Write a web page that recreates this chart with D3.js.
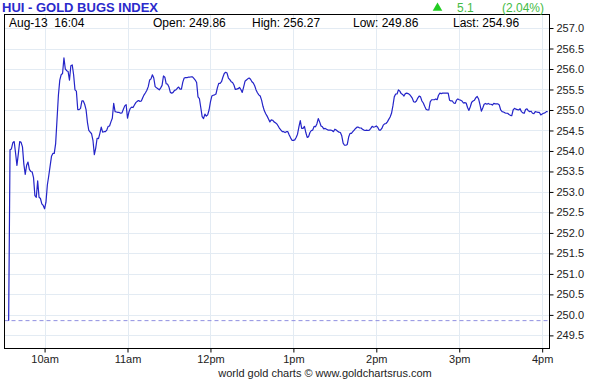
<!DOCTYPE html>
<html>
<head>
<meta charset="utf-8">
<script src="https://cdn.jsdelivr.net/npm/d3@7"></script>
<style>
  body { margin: 0; background: #fff; }
  svg { display: block; font-family: "Liberation Sans", Arial, sans-serif; }
  .grid line { stroke: #e3ebf3; stroke-width: 1; }
  .axis path { display: none; }
  .axis line { stroke: #000; }
  .axis text { fill: #222; font-size: 11px; }
</style>
</head>
<body>
<svg id="chart" width="598" height="379"></svg>
<script>
// one-minute closes, first bar at 9:34
const startMinute = 9 * 60 + 34;
const prices = [
  249.86, 254.03, 254.05, 254.2, 254.23, 253.95, 253.65, 253.93, 254.23, 254.21,
  254.1, 253.68, 253.43, 253.65, 253.73, 253.55, 253.5, 253.49, 253.35, 252.91,
  252.87, 253.27, 252.87, 252.84, 252.71, 252.67, 252.59, 252.75, 253.17, 253.39,
  253.63, 253.87, 253.94, 253.94, 254.18, 254.77, 255.36, 255.73, 255.86, 255.89,
  256.27, 256.0, 255.96, 255.94, 255.73, 256.08, 256.1, 255.86, 255.49, 255.46,
  255.01, 255.01, 255.04, 255.22, 255.22, 255.14, 255.01, 254.7, 254.5, 254.46,
  254.42, 254.26, 253.91, 254.07, 254.31, 254.3, 254.43, 254.58, 254.46, 254.47,
  254.47, 254.51, 254.6, 254.61, 254.71, 254.8, 255.16, 254.96, 254.95, 254.94,
  254.94, 254.92, 254.93, 255.02, 255.1, 255.13, 254.8, 254.95, 255.04, 255.07,
  255.06, 255.12, 255.18, 255.21, 255.23, 255.21, 255.22, 255.3, 255.37, 255.42,
  255.48, 255.57, 255.73, 255.76, 255.86, 255.78, 255.57, 255.54, 255.52, 255.49,
  255.54, 255.6, 255.83, 255.8, 255.64, 255.63, 255.56, 255.43, 255.41, 255.43,
  255.48, 255.49, 255.53, 255.56, 255.51, 255.51, 255.68, 255.78, 255.79, 255.79,
  255.8, 255.8, 255.81, 255.81, 255.77, 255.73, 255.67, 255.32, 255.28, 255.06,
  254.84, 254.79, 254.9, 254.85, 254.88, 255.0, 255.2, 255.34, 255.36, 255.37,
  255.39, 255.54, 255.65, 255.65, 255.69, 255.8, 255.89, 255.92, 255.9, 255.78,
  255.74, 255.69, 255.67, 255.61, 255.5, 255.51, 255.52, 255.55, 255.5, 255.43,
  255.56, 255.7, 255.73, 255.76, 255.78, 255.75, 255.69, 255.66, 255.59, 255.49,
  255.42, 255.37, 255.34, 255.24, 255.09, 254.98, 254.91, 254.85, 254.78, 254.71,
  254.76, 254.75, 254.71, 254.69, 254.66, 254.61, 254.55, 254.51, 254.47, 254.47,
  254.45, 254.47, 254.47, 254.39, 254.32, 254.26, 254.26, 254.27, 254.33, 254.41,
  254.59, 254.74, 254.55, 254.55, 254.6, 254.45, 254.33, 254.35, 254.45, 254.5,
  254.51, 254.6, 254.59, 254.66, 254.79, 254.71, 254.61, 254.59, 254.54, 254.55,
  254.53, 254.51, 254.51, 254.51, 254.5, 254.47, 254.53, 254.51, 254.48, 254.46,
  254.45, 254.37, 254.19, 254.14, 254.14, 254.16, 254.34, 254.43, 254.43, 254.47,
  254.51, 254.55, 254.58, 254.58, 254.56, 254.56, 254.53, 254.51, 254.5, 254.51,
  254.5, 254.51, 254.55, 254.6, 254.58, 254.59, 254.61, 254.58, 254.51, 254.51,
  254.55, 254.63, 254.66, 254.67, 254.71, 254.77, 254.83, 254.92, 255.1, 255.32,
  255.39, 255.39, 255.49, 255.46, 255.4, 255.38, 255.34, 255.4, 255.41, 255.4,
  255.38, 255.34, 255.29, 255.2, 255.19, 255.22, 255.29, 255.34, 255.32, 255.22,
  255.17, 255.09, 255.02, 255.0, 255.0, 255.2, 255.25, 255.25, 255.25, 255.27,
  255.25, 255.36, 255.41, 255.4, 255.41, 255.41, 255.41, 255.41, 255.41, 255.24,
  255.22, 255.22, 255.17, 255.16, 255.24, 255.27, 255.25, 255.24, 255.22, 255.17,
  255.18, 255.17, 255.06, 254.99, 255.08, 255.19, 255.22, 255.24, 255.3, 255.33,
  255.27, 255.13, 254.97, 255.05, 255.14, 255.16, 255.14, 255.16, 255.14, 255.14,
  255.12, 255.16, 255.15, 255.15, 255.15, 255.12, 255.0, 254.96, 254.95, 254.93,
  254.92, 254.92, 254.89, 254.87, 254.86, 255.0, 255.04, 255.02, 255.01, 255.0,
  255.03, 254.96, 254.93, 254.92, 255.01, 255.03, 254.98, 254.96, 254.97, 254.92,
  254.91, 254.96, 254.95, 254.94, 254.94, 254.88, 254.9, 254.92, 254.93, 254.96,
  254.96
];

const hourTicks = [10, 11, 12, 13, 14, 15, 16];
const hourLabels = ["10am", "11am", "12pm", "1pm", "2pm", "3pm", "4pm"];
const priceTicks = d3.range(249.5, 257.01, 0.5);

const title = "HUI - GOLD BUGS INDEX";
const stamp = "Aug-13  16:04";
const openPrice = 249.86, highPrice = 256.27, lowPrice = 249.86, lastPrice = 254.96;
const change = 5.1, changePct = 2.04;

const svg = d3.select("#chart");
const plotL = 4.5, plotR = 549.5, plotT = 14.5, plotB = 348.5;

const x = d3.scaleLinear().domain([9 * 60 + 31, 16 * 60 + 5.3]).range([plotL, plotR]);
const y = d3.scaleLinear().domain([249.18, 257.33]).range([plotB, plotT]);

const data = prices.map((p, i) => ({ t: startMinute + i, v: p }));

svg.append("rect").attr("width", 598).attr("height", 379).attr("fill", "#fff");

// grid
const grid = svg.append("g").attr("class", "grid");
grid.selectAll(".h").data(priceTicks).enter().append("line")
  .attr("x1", plotL).attr("x2", plotR)
  .attr("y1", d => Math.round(y(d)) + 0.5).attr("y2", d => Math.round(y(d)) + 0.5);
grid.selectAll(".v").data(hourTicks).enter().append("line")
  .attr("y1", plotT).attr("y2", plotB)
  .attr("x1", d => Math.round(x(d * 60)) + 0.5).attr("x2", d => Math.round(x(d * 60)) + 0.5);

// open reference line
svg.append("line")
  .attr("x1", plotL).attr("x2", plotR)
  .attr("y1", y(openPrice)).attr("y2", y(openPrice))
  .attr("stroke", "#8f8fe0").attr("stroke-width", 1).attr("stroke-dasharray", "4,3");

// price line
const line = d3.line().x(d => x(d.t)).y(d => y(d.v));
svg.append("path").datum(data)
  .attr("d", line)
  .attr("fill", "none")
  .attr("stroke", "#2424c8")
  .attr("stroke-width", 1.2)
  .attr("stroke-linejoin", "round");

// frame
svg.append("rect")
  .attr("x", plotL).attr("y", plotT)
  .attr("width", plotR - plotL).attr("height", plotB - plotT)
  .attr("fill", "none").attr("stroke", "#000").attr("stroke-width", 1);

// axes
const yAxis = d3.axisRight(y).tickValues(priceTicks).tickSize(4).tickPadding(3)
  .tickFormat(d => d.toFixed(1));
svg.append("g").attr("class", "axis").attr("transform", `translate(${plotR},0)`).call(yAxis);

const xAxis = d3.axisBottom(x).tickValues(hourTicks.map(h => h * 60)).tickSize(4).tickPadding(3)
  .tickFormat((d, i) => hourLabels[i]);
svg.append("g").attr("class", "axis").attr("transform", `translate(0,${plotB})`).call(xAxis);

// title and header
svg.append("text").attr("x", 2).attr("y", 12)
  .attr("font-size", 13).attr("font-weight", "bold").attr("fill", "#2a2acc")
  .text(title);

const hdr = svg.append("g").attr("font-size", 12).attr("fill", "#000");
hdr.append("text").attr("x", 9).attr("y", 27).attr("xml:space", "preserve").text(stamp);
hdr.append("text").attr("x", 153).attr("y", 27).text("Open: " + openPrice.toFixed(2));
hdr.append("text").attr("x", 252).attr("y", 27).text("High: " + highPrice.toFixed(2));
hdr.append("text").attr("x", 353).attr("y", 27).text("Low: " + lowPrice.toFixed(2));
hdr.append("text").attr("x", 453).attr("y", 27).text("Last: " + lastPrice.toFixed(2));

svg.append("path")
  .attr("d", d3.symbol().type(d3.symbolTriangle).size(40)())
  .attr("transform", "translate(437.5,8)")
  .attr("fill", "#22cc22");
svg.append("text").attr("x", 457).attr("y", 12).attr("font-size", 12).attr("fill", "#44bb44")
  .text(change.toFixed(1));
svg.append("text").attr("x", 502).attr("y", 12).attr("font-size", 12).attr("fill", "#44bb44")
  .text("(" + changePct.toFixed(2) + "%)");

svg.append("text").attr("x", 325).attr("y", 377).attr("text-anchor", "middle")
  .attr("font-size", 11).attr("fill", "#222")
  .text("world gold charts \u00a9 www.goldchartsrus.com");
</script>
</body>
</html>
